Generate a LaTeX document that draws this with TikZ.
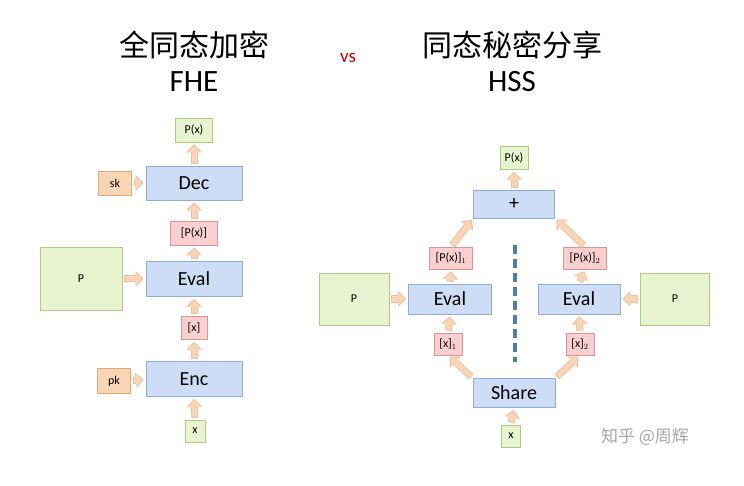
\documentclass[tikz,border=0pt]{standalone}
\usepackage{fontspec}
\setmainfont{Carlito}
\newfontfamily\cjk{Noto Sans CJK SC}
\usetikzlibrary{arrows.meta}
\definecolor{bfill}{HTML}{CCDDF5}\definecolor{bdraw}{HTML}{8EAEDA}
\definecolor{gfill}{HTML}{E8F4D0}\definecolor{gdraw}{HTML}{AECB80}
\definecolor{rfill}{HTML}{F9CFCF}\definecolor{rdraw}{HTML}{D99694}
\definecolor{ofill}{HTML}{FAD5B5}\definecolor{odraw}{HTML}{E3A878}
\definecolor{dashcol}{HTML}{4F7FB0}
\tikzset{
 box/.style 2 args={draw=#1draw,fill=#1fill,minimum width=#2,inner sep=0pt,line width=0.6pt},
 bbox/.style={box={b}{82pt},minimum height=30pt,font=\fontsize{20}{20}\selectfont},
 fat/.style={draw=odraw!70,line width=7pt,-{Triangle[width=15pt,length=8pt]},shorten <=2pt,shorten >=2pt},
 fatin/.style={ofill,line width=5pt,-{Triangle[width=12pt,length=6.5pt]},shorten <=3pt,shorten >=3.5pt},
 sm/.style={font=\fontsize{12}{12}\selectfont,minimum height=23pt}
}
\newcommand\farrow[2]{\draw[fat] (#1) -- (#2); \draw[fatin] (#1) -- (#2);}
\begin{document}
\begin{tikzpicture}[x=1pt,y=-1pt]
\useasboundingbox[fill=white] (0,0) rectangle (744,486);
\node[font=\cjk\fontsize{30}{30}\selectfont] (t1) at (194,45) {全同态加密};
\node[font=\fontsize{31}{31}\selectfont] (t2) at (194,82) {FHE};
\node[font=\fontsize{19}{19}\selectfont,text=red!80!black] (vs) at (348,58) {vs};
\node[font=\cjk\fontsize{30}{30}\selectfont] (t3) at (512,45) {同态秘密分享};
\node[font=\fontsize{31}{31}\selectfont] (t4) at (512,82) {HSS};
% left
\node[box={g}{37pt},sm,minimum height=24pt] (px) at (194,130) {P(x)};
\node[bbox,minimum height=34pt,minimum width=96pt] (dec) at (194,183) {Dec};
\node[box={o}{33pt},sm,minimum height=24pt] (sk) at (115,183) {sk};
\node[box={r}{47pt},sm,minimum height=24pt] (epx) at (194,233) {[P(x)]};
\node[bbox,minimum height=35pt,minimum width=96pt] (eval) at (194,279) {Eval};
\node[box={g}{82pt},sm,minimum height=63pt] (P) at (81,279) {P};
\node[box={r}{26pt},sm,minimum height=23pt] (ex) at (194,328) {[x]};
\node[bbox,minimum height=35pt,minimum width=96pt] (enc) at (194,379) {Enc};
\node[box={o}{33pt},sm,minimum height=25pt] (pk) at (114,381) {pk};
\node[box={g}{20pt},sm,minimum height=22pt] (x) at (195,431) {x};
\farrow{dec.north}{px.south}
\farrow{sk.east}{dec.west}
\farrow{epx.north}{dec.south}
\farrow{eval.north}{epx.south}
\farrow{P.east}{eval.west}
\farrow{ex.north}{eval.south}
\farrow{enc.north}{ex.south}
\farrow{pk.east}{enc.west}
\farrow{x.north}{enc.south}
% right
\node[box={g}{28pt},sm,minimum height=23pt] (rpx) at (514,158) {P(x)};
\node[bbox,minimum height=28pt,minimum width=81pt] (plus) at (514,204) {+};
\node[box={r}{43pt},sm,minimum height=22pt] (p1) at (451,258) {[P(x)]$_1$};
\node[box={r}{43pt},sm,minimum height=22pt] (p2) at (585,258) {[P(x)]$_2$};
\node[bbox,minimum height=30pt,minimum width=83pt] (ev1) at (450,299) {Eval};
\node[bbox,minimum height=30pt,minimum width=82pt] (ev2) at (579,299) {Eval};
\node[box={g}{70pt},sm,minimum height=52pt] (P1) at (354,299) {P};
\node[box={g}{69pt},sm,minimum height=52pt] (P2) at (675,299) {P};
\node[box={r}{28pt},sm,minimum height=22pt] (x1) at (448,344) {[x]$_1$};
\node[box={r}{28pt},sm,minimum height=22pt] (x2) at (580,344) {[x]$_2$};
\node[bbox,minimum height=29pt,minimum width=82pt] (share) at (514,393) {Share};
\node[box={g}{19pt},sm,minimum height=22pt] (rx) at (511,436) {x};
\coordinate (d1) at (515,245); \coordinate (d2) at (515,362);
\draw[dashcol,line width=4pt,dash pattern=on 9pt off 5pt] (d1) -- (d2);
\farrow{plus.north}{rpx.south}
\farrow{p1.north}{plus.south west}
\farrow{p2.north}{plus.south east}
\farrow{ev1.north}{p1.south}
\farrow{ev2.north}{p2.south}
\farrow{P1.east}{ev1.west}
\farrow{P2.west}{ev2.east}
\farrow{x1.north}{ev1.south}
\farrow{x2.north}{ev2.south}
\farrow{share.north west}{x1.south}
\farrow{share.north east}{x2.south}
\farrow{rx.north}{share.south}
\node[font=\cjk\fontsize{17}{17}\selectfont,text=black!35] (wm) at (645,437) {知乎 @周辉};
\end{tikzpicture}
\end{document}
